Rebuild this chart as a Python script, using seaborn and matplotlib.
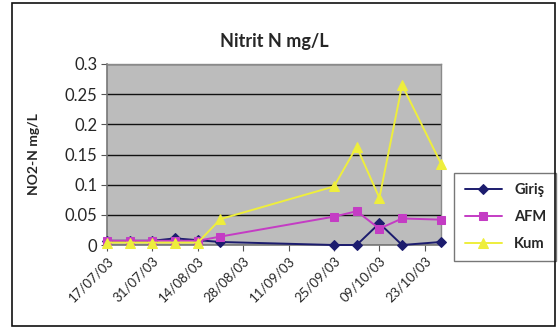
import matplotlib
matplotlib.use("Agg")
import matplotlib.pyplot as plt
import matplotlib.dates as mdates
from matplotlib.patches import Rectangle
import seaborn as sns
import pandas as pd

sns.set_style("white")
plt.rcParams["font.family"] = ["Lato", "DejaVu Sans"]

dates = ["2003-07-17", "2003-07-24", "2003-07-31", "2003-08-07", "2003-08-14",
         "2003-08-21", "2003-09-25", "2003-10-02", "2003-10-09", "2003-10-16",
         "2003-10-28"]
giris = [0.007, 0.007, 0.007, 0.011, 0.008, 0.005, 0.0, 0.0, 0.036, 0.0, 0.005]
afm = [0.007, 0.007, 0.007, 0.007, 0.007, 0.014, 0.047, 0.056, 0.027, 0.044, 0.042]
kum = [0.004, 0.004, 0.004, 0.004, 0.004, 0.043, 0.097, 0.163, 0.078, 0.265, 0.135]
series_names = ["Giriş", "AFM", "Kum"]
tick_dates = ["2003-07-17", "2003-07-31", "2003-08-14", "2003-08-28",
              "2003-09-11", "2003-09-25", "2003-10-09", "2003-10-23"]

colors = {"Giriş": "#1c1c6e", "AFM": "#c43cc4", "Kum": "#eeee3c"}
markers = {"Giriş": "D", "AFM": "s", "Kum": "^"}
msize = {"Giriş": 5, "AFM": 6, "Kum": 7}

df = pd.DataFrame({"date": pd.to_datetime(dates), "Giriş": giris, "AFM": afm, "Kum": kum})
long = df.melt(id_vars="date", var_name="series", value_name="value")

fig = plt.figure(figsize=(5.59, 3.28), dpi=100)
ax = fig.add_axes([107 / 559, 1 - 245 / 328, (441 - 107) / 559, (245 - 64) / 328])

for name in series_names:
    sub = long[long["series"] == name]
    sns.lineplot(data=sub, x="date", y="value", ax=ax, color=colors[name],
                 marker=markers[name], markersize=msize[name],
                 markeredgecolor=colors[name], linewidth=1.4, label=name,
                 clip_on=False, zorder=3)

ax.set_facecolor("#bcbcbc")
ax.set_ylim(0, 0.3)
ax.set_yticks([0, 0.05, 0.1, 0.15, 0.2, 0.25, 0.3])
ax.set_yticklabels(["0", "0.05", "0.1", "0.15", "0.2", "0.25", "0.3"], fontsize=12)
ax.set_xlim(pd.Timestamp("2003-07-17"), pd.Timestamp("2003-10-28"))
ax.set_xticks(pd.to_datetime(tick_dates))
ax.xaxis.set_major_formatter(mdates.DateFormatter("%d/%m/%y"))
plt.setp(ax.get_xticklabels(), rotation=45, ha="right", rotation_mode="anchor", fontsize=9.5)
ax.tick_params(axis="both", which="major", length=4, width=0.8, color="#555555",
               bottom=True, left=True, direction="out", pad=3)
ax.grid(axis="y", color="#111111", linewidth=1.0)
ax.set_axisbelow(True)
for side in ["top", "right"]:
    ax.spines[side].set_color("#8a8a8a")
    ax.spines[side].set_linewidth(1.0)
for side in ["left", "bottom"]:
    ax.spines[side].set_color("#777777")
    ax.spines[side].set_linewidth(1.2)

ax.set_xlabel("")
ax.set_ylabel("NO2-N mg/L", fontsize=10, fontweight="bold", labelpad=18)
ax.set_title("Nitrit N mg/L", fontsize=13, fontweight="bold", pad=12)

leg = ax.legend(loc="center left", bbox_to_anchor=(447 / 559, 1 - 217 / 328),
                bbox_transform=fig.transFigure, frameon=True, fancybox=False,
                prop={"weight": "bold", "size": 10.5}, handlelength=2.6,
                borderpad=0.7, labelspacing=0.9, edgecolor="#555555")
leg.get_frame().set_linewidth(1.0)

fig.patches.append(Rectangle((12 / 559, 1 - 326 / 328), (555 - 12) / 559, (326 - 3) / 328,
                             transform=fig.transFigure, fill=False,
                             edgecolor="#111111", linewidth=1.2))

fig.savefig("out.png", dpi=100)
